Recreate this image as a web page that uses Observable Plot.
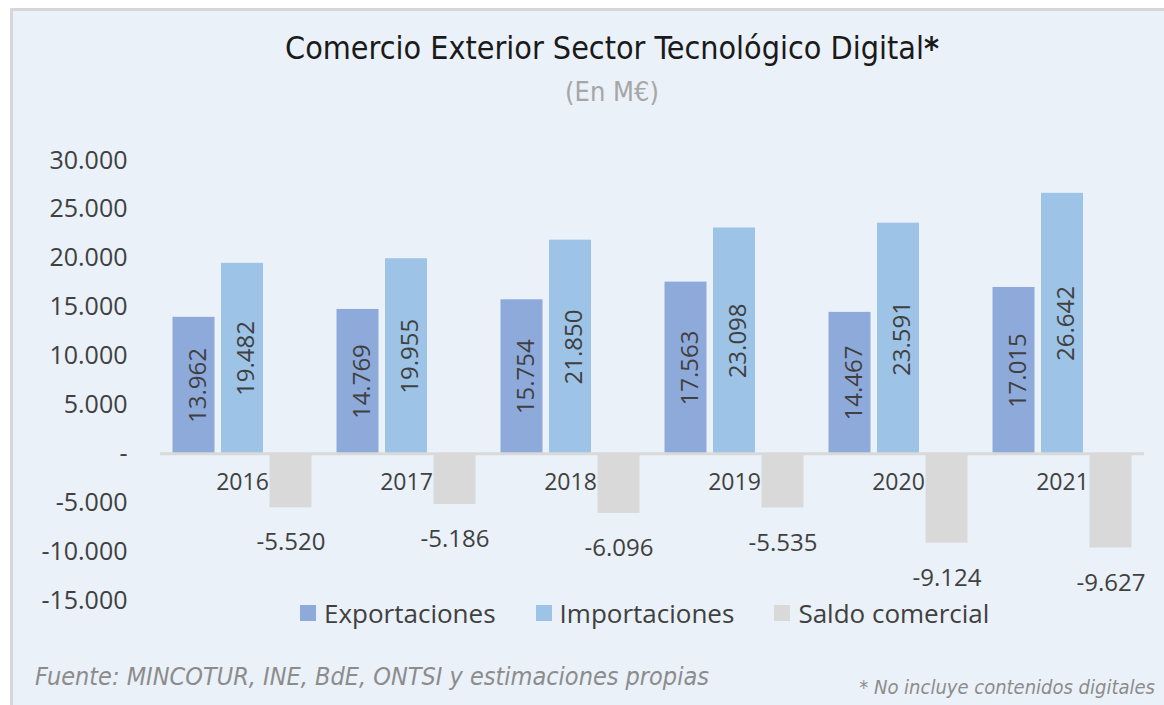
<!DOCTYPE html>
<html>
<head>
<meta charset="utf-8">
<script src="https://cdn.jsdelivr.net/npm/d3@7"></script>
<script src="https://cdn.jsdelivr.net/npm/@observablehq/plot@0.6"></script>
<style>
  body { margin: 0; background: #ffffff; }
  #wrap { position: relative; width: 1164px; height: 705px; overflow: hidden; font-family: "Open Sans", sans-serif; }
  #panel { position: absolute; left: 10px; top: 8px; right: 0; bottom: 0; background: #eaf1f9; border-left: 3px solid #d6d6d6; border-top: 3px solid #d6d6d6; }
  #title { position: absolute; left: 0; width: 1224px; top: 29px; text-align: center; font-family: "DejaVu Sans Condensed", "Open Sans", sans-serif; font-size: 32px; color: #1a1a1a; }
  #subtitle { position: absolute; left: 0; width: 1224px; top: 76px; text-align: center; font-family: "DejaVu Sans Condensed", "Open Sans", sans-serif; font-size: 27px; color: #a6a6a6; }
  #chart { position: absolute; left: 0; top: 140px; }
  #legend { position: absolute; left: 300px; top: 595px; display: flex; align-items: center; font-size: 26px; color: #404040; }
  #legend .item { display: flex; align-items: center; margin-right: 40px; }
  #legend .sw { width: 16px; height: 16px; margin-right: 8px; }
  #source { position: absolute; left: 35px; top: 662px; font-size: 25px; font-style: italic; color: #8c8c8c; font-family: "DejaVu Sans Condensed", "Open Sans", sans-serif; }
  #note { position: absolute; right: 9px; top: 675px; font-size: 20px; font-style: italic; color: #8c8c8c; font-family: "DejaVu Sans Condensed", "Open Sans", sans-serif; }
</style>
</head>
<body>
<div id="wrap">
  <div id="panel"></div>
  <div id="title">Comercio Exterior Sector Tecnológico Digital<b>*</b></div>
  <div id="subtitle">(En M€)</div>
  <div id="chart"></div>
  <div id="legend"></div>
  <div id="source">Fuente: MINCOTUR, INE, BdE, ONTSI y estimaciones propias</div>
  <div id="note">* No incluye contenidos digitales</div>
</div>
<script>
const years = ["2016", "2017", "2018", "2019", "2020", "2021"];
const series = ["Exportaciones", "Importaciones", "Saldo comercial"];
const colors = ["#8eaadb", "#9dc3e6", "#d9d9d9"];
const exportaciones = [13962, 14769, 15754, 17563, 14467, 17015];
const importaciones = [19482, 19955, 21850, 23098, 23591, 26642];
const saldo = [-5520, -5186, -6096, -5535, -9124, -9627];
const yTicks = [-15000, -10000, -5000, 0, 5000, 10000, 15000, 20000, 25000, 30000];

const data = [];
years.forEach((y, i) => {
  data.push({year: y, series: series[0], value: exportaciones[i]});
  data.push({year: y, series: series[1], value: importaciones[i]});
  data.push({year: y, series: series[2], value: saldo[i]});
});
const yearData = years.map(y => ({year: y}));

function fmt(v) {
  if (v === 0) return "-";
  const s = Math.abs(v).toString().replace(/\B(?=(\d{3})+(?!\d))/g, ".");
  return (v < 0 ? "-" : "") + s;
}

const chart = Plot.plot({
  width: 1164,
  height: 480,
  marginTop: 20,
  marginBottom: 20,
  marginLeft: 160,
  marginRight: 20,
  style: {background: "transparent", fontFamily: "Open Sans, sans-serif", color: "#404040"},
  fx: {domain: years, axis: null, paddingInner: 0, paddingOuter: 0, round: false},
  x: {domain: series, axis: null, paddingInner: 0.134, paddingOuter: 0.258, round: false},
  y: {domain: [-15000, 30000], ticks: yTicks, tickFormat: fmt, tickSize: 0, tickPadding: 33, label: null},
  color: {domain: series, range: colors},
  marks: [
    Plot.axisY({ticks: yTicks, tickFormat: fmt, tickSize: 0, tickPadding: 33, label: null, fontSize: 25, fill: "#404040"}),
    Plot.barY(data, {fx: "year", x: "series", y: "value", fill: "series"}),
    Plot.ruleY([0], {stroke: "#d9d9d9", strokeWidth: 3}),
    Plot.text(data.filter(d => d.value > 0), {fx: "year", x: "series", y: d => d.value / 2, text: d => fmt(d.value), rotate: -90, fontSize: 24, fill: "#404040", dx: 4}),
    Plot.text(data.filter(d => d.value < 0), {fx: "year", x: "series", y: "value", text: d => fmt(d.value), dy: 35, fontSize: 24, fill: "#404040"}),
    Plot.text(yearData, {fx: "year", y: () => 0, text: "year", dy: 29, fontSize: 23, fill: "#404040"})
  ]
});
document.getElementById("chart").appendChild(chart);

const legend = document.getElementById("legend");
series.forEach((s, i) => {
  const item = document.createElement("div");
  item.className = "item";
  const sw = document.createElement("div");
  sw.className = "sw";
  sw.style.background = colors[i];
  const t = document.createElement("span");
  t.textContent = s;
  item.appendChild(sw);
  item.appendChild(t);
  legend.appendChild(item);
});
</script>
</body>
</html>
